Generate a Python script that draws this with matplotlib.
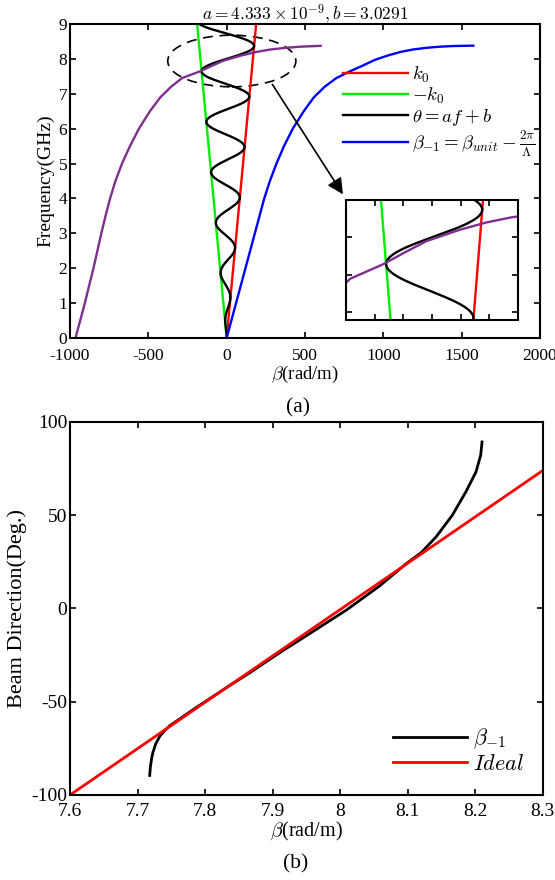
import numpy as np
import matplotlib
matplotlib.use("Agg")
import matplotlib.pyplot as plt
from matplotlib.patches import Ellipse

plt.rcParams['font.family'] = ['Liberation Serif', 'DejaVu Serif']
plt.rcParams['mathtext.fontset'] = 'cm'
plt.rcParams['axes.unicode_minus'] = False

# fitted parameters from the title of panel (a)
a = 4.333e-9
b = 3.0291
c0 = 3e8

# k0 and -k0 lines (GHz, rad/m)
k0_freq = [0, 9]
k0_beta = [0, 188.5]
neg_k0_beta = [0, -188.5]

# theta = a f + b curve, evaluated on the frequency grid
theta_freq = np.linspace(0, 9, 900)

# purple curve
purple_freq = [0, 0.5, 1.0, 1.5, 2.0, 2.5, 3.0, 3.5, 4.0, 4.5, 5.0, 5.5, 6.0, 6.5, 6.9,
               7.2, 7.45, 7.64, 7.8, 7.95, 8.1, 8.2, 8.27, 8.32, 8.35, 8.375]
purple_beta = [-965, -935, -905, -878, -850, -825, -800, -773, -744, -710, -668, -617, -560,
               -490, -423, -355, -285, -172, -95, -20, 95, 190, 280, 380, 470, 600]

# blue curve beta_-1
blue_freq = [0, 0.5, 1.0, 1.5, 2.0, 2.5, 3.0, 3.5, 4.0, 4.5, 5.0, 5.5, 6.0, 6.5, 6.9,
             7.2, 7.45, 7.64, 7.8, 7.97, 8.1, 8.2, 8.27, 8.32, 8.35, 8.37, 8.38]
blue_beta = [0, 30, 60, 90, 120, 150, 180, 210, 240, 276, 318, 366, 422, 492, 557,
             625, 700, 785, 865, 945, 1030, 1110, 1190, 1280, 1360, 1450, 1575]

# panel (b): beam direction
beam_x = [7.718, 7.719, 7.721, 7.723, 7.727, 7.733, 7.74, 7.748, 7.76, 7.772, 7.786, 7.8,
          7.83, 7.866, 7.91, 7.959, 8.009, 8.058, 8.097, 8.12, 8.142, 8.166, 8.186, 8.201,
          8.208, 8.21]
beam_deg = [-89.5, -85, -80, -76.9, -72.5, -68.5, -65.5, -62.8, -59.8, -56.8, -53.3, -50,
            -42.8, -34.5, -23.8, -12.5, -0.9, 12.0, 23.8, 30.0, 38.4, 50.0, 62.5, 73.2,
            82.2, 89.3]
ideal_x = [7.6, 8.3]
ideal_deg = [-100, 74]

red = '#ff0000'
green = '#00ee00'
blue = '#0000ff'
purple = '#7e2f8e'

theta_beta = 2 * np.pi * theta_freq * 1e9 / c0 * np.sin(a * theta_freq * 1e9 + b)


def style(ax, size=12.5, xpad=5):
    ax.tick_params(direction='in', top=True, right=True, length=4, width=1.2, labelsize=size)
    ax.tick_params(axis='x', pad=xpad)
    ax.tick_params(axis='y', pad=2)
    for s in ax.spines.values():
        s.set_linewidth(1.5)


fig = plt.figure(figsize=(5.55, 8.8), dpi=100)

# ---------- panel (a) ----------
ax1 = fig.add_axes([0.1261, 0.6159, 0.8468, 0.3568])
ax1.plot(k0_beta, k0_freq, color=red, lw=1.7, label=r'$k_0$')
ax1.plot(neg_k0_beta, k0_freq, color=green, lw=1.7, label=r'$-k_0$')
ax1.plot(theta_beta, theta_freq, color='k', lw=1.7, label=r'$\theta = af + b$')
ax1.plot(blue_beta, blue_freq, color=blue, lw=1.7,
         label=r'$\beta_{-1} = \beta_{unit} - \frac{2\pi}{\Lambda}$')
ax1.plot(purple_beta, purple_freq, color=purple, lw=1.7)
ax1.set_xlim(-1000, 2000)
ax1.set_ylim(0, 9)
ax1.set_xticks([-1000, -500, 0, 500, 1000, 1500, 2000])
ax1.set_yticks(range(10))
style(ax1, xpad=7)
ax1.set_xlabel(r'$\beta$(rad/m)', fontsize=13.5, labelpad=0)
ax1.set_ylabel('Frequency(GHz)', fontsize=14, labelpad=3)
ax1.set_title(r'$a = 4.333 \times 10^{-9}, b = 3.0291$', fontsize=12.5, pad=3)
ax1.legend(loc='upper left', bbox_to_anchor=(0.565, 0.895), frameon=False, fontsize=13.5,
           handlelength=3.45, handletextpad=0.25, labelspacing=0.05, borderaxespad=0)

ax1.add_patch(Ellipse((33, 7.94), 818, 1.48, fill=False, ls=(0, (6, 4)), lw=1.2, color='k'))
ax1.annotate('', xy=(752, 4.05), xytext=(282, 7.34),
             arrowprops=dict(arrowstyle='-|>', color='k', lw=1.2, mutation_scale=24))

# inset zoom
axi = fig.add_axes([0.6234, 0.6364, 0.3099, 0.1364])
axi.plot(k0_beta, k0_freq, color=red, lw=1.7)
axi.plot(neg_k0_beta, k0_freq, color=green, lw=1.7)
axi.plot(theta_beta, theta_freq, color='k', lw=1.7)
axi.plot(purple_beta, purple_freq, color=purple, lw=1.7)
axi.set_xlim(-300, 300)
axi.set_ylim(6.9, 8.5)
axi.set_xticks([-200, -100, 0, 100, 200])
axi.set_yticks([7.0, 7.5, 8.0])
axi.set_xticklabels([])
axi.set_yticklabels([])
style(axi)

fig.text(0.537, 1 - 408 / 880, '(a)', ha='center', va='center', fontsize=15.5)

# ---------- panel (b) ----------
ax2 = fig.add_axes([0.1261, 0.0966, 0.852, 0.4239])
ax2.plot(beam_x, beam_deg, color='k', lw=2, label=r'$\beta_{-1}$')
ax2.plot(ideal_x, ideal_deg, color=red, lw=2, label=r'$Ideal$')
ax2.set_xlim(7.6, 8.3)
ax2.set_ylim(-100, 100)
xt = [7.6, 7.7, 7.8, 7.9, 8.0, 8.1, 8.2, 8.3]
ax2.set_xticks(xt)
ax2.set_xticklabels(['%g' % v for v in xt])
ax2.set_yticks([-100, -50, 0, 50, 100])
style(ax2, size=14, xpad=6)
ax2.set_xlabel(r'$\beta$(rad/m)', fontsize=14.5, labelpad=0)
ax2.set_ylabel('Beam Direction(Deg.)', fontsize=16, labelpad=3)
ax2.legend(loc='upper left', bbox_to_anchor=(0.665, 0.207), frameon=False, fontsize=16,
           handlelength=3.3, handletextpad=0.3, labelspacing=0.15, borderaxespad=0)

fig.text(0.532, 1 - 864 / 880, '(b)', ha='center', va='center', fontsize=15.5)

fig.savefig('out.png', dpi=100)
